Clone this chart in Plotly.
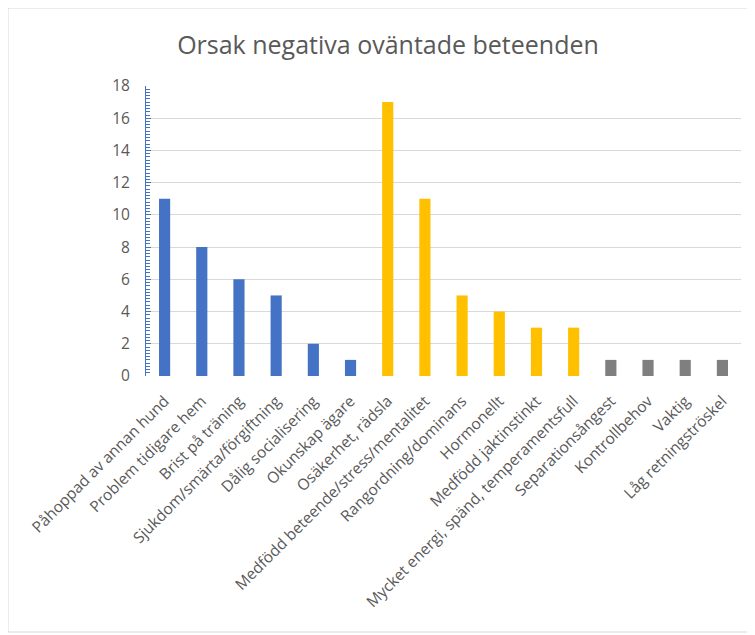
import plotly.graph_objects as go

categories = ["Påhoppad av annan hund", "Problem tidigare hem", "Brist på träning",
              "Sjukdom/smärta/förgiftning", "Dålig socialisering", "Okunskap ägare",
              "Osäkerhet, rädsla", "Medfödd beteende/stress/mentalitet", "Rangordning/dominans",
              "Hormonellt", "Medfödd jaktinstinkt", "Mycket energi, spänd, temperamentsfull",
              "Separationsångest", "Kontrollbehov", "Vaktig", "Låg retningströskel"]
values = [11, 8, 6, 5, 2, 1, 17, 11, 5, 4, 3, 3, 1, 1, 1, 1]
groups = ["blue"] * 6 + ["gold"] * 6 + ["gray"] * 4
color_map = {"blue": "#4472C4", "gold": "#FFC000", "gray": "#7F7F7F"}
y_ticks = [0, 2, 4, 6, 8, 10, 12, 14, 16, 18]

OFF = 8  # page body margin
W, H = 755 - OFF, 635 - OFF
# target page-pixel plot area: x 146..741, y 86..376
L = 146 - OFF
T = 86 - OFF
R = W - (741 - OFF)
B = H - (376 - OFF)
pw, ph = W - L - R, H - T - B

fig = go.Figure(go.Bar(
    x=categories, y=values,
    marker=dict(color=[color_map[g] for g in groups], line=dict(width=0)),
    width=0.3,
))

def px_to_paper_x(px):
    return (px - OFF - L) / pw

def px_to_paper_y(py):
    return (H - B - (py - OFF)) / ph

fig.update_layout(
    width=W, height=H,
    margin=dict(l=L, r=R, t=T, b=B),
    paper_bgcolor="white", plot_bgcolor="white",
    font=dict(family="Open Sans, Lato, sans-serif", color="#595959"),
    title=dict(text="Orsak negativa oväntade beteenden", x=(388 - OFF) / W, xanchor="center",
               y=1 - (45 - OFF) / H, yanchor="middle",
               font=dict(size=25, color="#595959")),
    showlegend=False,
    xaxis=dict(tickangle=-45, tickfont=dict(size=15.5, color="#595959"),
               showgrid=False, showline=False, ticks="", range=[-0.5, 15.5],
               ticklabelstandoff=12),
    yaxis=dict(range=[0, 18], tickvals=y_ticks, tickfont=dict(size=15.5, color="#595959"),
               showgrid=True, gridcolor="#D9D9D9", gridwidth=1,
               showline=True, linecolor="#4472C4", linewidth=1,
               ticks="inside", ticklen=5, tickcolor="#4472C4",
               minor=dict(dtick=0.2, ticks="inside", ticklen=4, tickcolor="#4472C4", showgrid=False),
               zeroline=False, ticklabelstandoff=12),
    shapes=[dict(type="rect", xref="paper", yref="paper",
                 x0=px_to_paper_x(8), x1=px_to_paper_x(770),
                 y0=px_to_paper_y(632), y1=px_to_paper_y(8),
                 line=dict(color="#D9D9D9", width=1), fillcolor="rgba(0,0,0,0)", layer="below")],
)

fig.write_html("out.html")
